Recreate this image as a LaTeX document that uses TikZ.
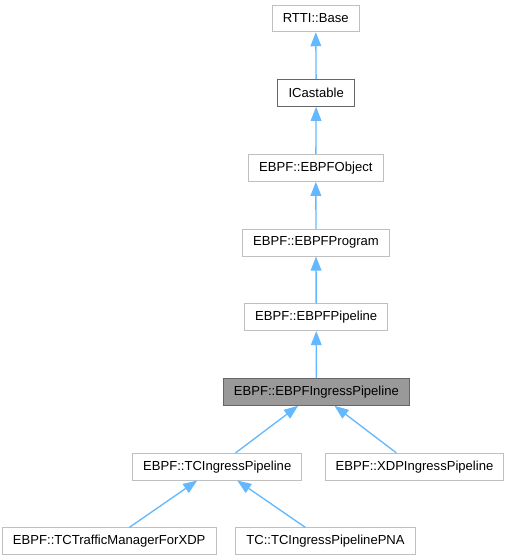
\documentclass[tikz,border=0pt]{standalone}
\usepackage{fontspec}
\setmainfont{Liberation Sans}
\usetikzlibrary{arrows.meta}
\definecolor{edgeblue}{HTML}{63B8FF}
\definecolor{boxgray}{HTML}{BFBFBF}
\definecolor{darkgray}{HTML}{666666}
\definecolor{fillgray}{HTML}{999999}
\tikzset{
  cls/.style={draw=boxgray, line width=0.75pt, fill=white, inner xsep=8pt,
    minimum height=20pt, font=\fontsize{9.8}{12}\selectfont},
  docd/.style={cls, draw=darkgray},
  cur/.style={cls, draw=darkgray, fill=fillgray},
  inh/.style={draw=edgeblue, line width=1pt, -{Triangle[length=10.5pt,width=8pt]}}
}
\begin{document}
\begin{tikzpicture}[x=0.75pt,y=-0.75pt]
      \useasboundingbox (0,0) rectangle (509,560);
      \draw
        (315.7,18.4) node[cls] (base){RTTI::Base}
        (316.2,93) node[docd] (icast){ICastable}
        (315.8,168) node[cls] (object){EBPF::EBPFObject}
        (316,242.7) node[cls] (program){EBPF::EBPFProgram}
        (316.2,317.3) node[cls] (pipeline){EBPF::EBPFPipeline}
        (316.4,392) node[cur] (ingress){EBPF::EBPFIngressPipeline}
        (217.2,466.7) node[cls] (tcin){EBPF::TCIngressPipeline}
        (414.5,466.7) node[cls] (xdp){EBPF::XDPIngressPipeline}
        (109.2,541.3) node[cls] (tctm){EBPF::TCTrafficManagerForXDP}
        (325.5,541.3) node[cls] (pna){TC::TCIngressPipelinePNA};
      \begin{scope}[inh]
        \draw (icast) to (base);
        \draw (object) to (icast);
        \draw (program) to (object);
        \draw (pipeline) to (program);
        \draw (ingress) to (pipeline);
        \draw (tcin) to (ingress);
        \draw (xdp) to (ingress);
        \draw (tctm) to (tcin);
        \draw (pna) to (tcin);
      \end{scope}
    \end{tikzpicture}
\end{document}
